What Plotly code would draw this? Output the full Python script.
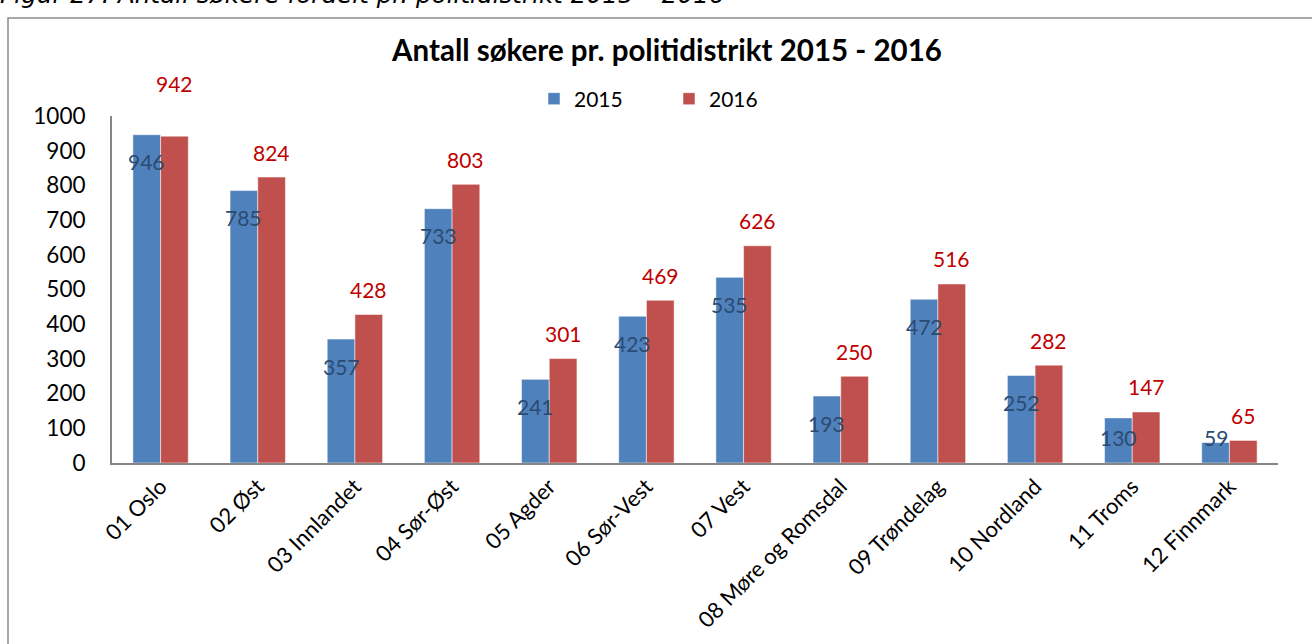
import plotly.graph_objects as go

categories = ["01 Oslo", "02 Øst", "03 Innlandet", "04 Sør-Øst", "05 Agder", "06 Sør-Vest",
              "07 Vest", "08 Møre og Romsdal", "09 Trøndelag", "10 Nordland", "11 Troms", "12 Finnmark"]
v2015 = [946, 785, 357, 733, 241, 423, 535, 193, 472, 252, 130, 59]
v2016 = [942, 824, 428, 803, 301, 469, 626, 250, 516, 282, 147, 65]
y_ticks = [0, 100, 200, 300, 400, 500, 600, 700, 800, 900, 1000]

W, H = 1312, 644
L, R, T, B = 112, 34, 116, 181
PW, PH = W - L - R, H - T - B
FONT = "Lato, Carlito, Calibri, sans-serif"
BLUE, RED = "#4F81BD", "#C0504D"

fig = go.Figure()
fig.add_bar(name="2015", x=categories, y=v2015, marker=dict(color=BLUE, line=dict(color="rgba(255,255,255,0.5)", width=1)))
fig.add_bar(name="2016", x=categories, y=v2016, marker=dict(color=RED, line=dict(color="rgba(255,255,255,0.5)", width=1)))

bargap = 0.43
cat_w = PW / len(categories)
off = cat_w * (1 - bargap) / 4
px_per_unit = PH / 1000

ann = []
for c, v in zip(categories, v2015):
    yy = max(v * px_per_unit - 27, 26) / px_per_unit
    ann.append(dict(x=c, y=yy, xref="x", yref="y", text=str(v), showarrow=False,
                    xshift=-off, font=dict(family=FONT, size=21, color="#2B4B70")))
for i, (c, v) in enumerate(zip(categories, v2016)):
    lift = 53 if i == 0 else 25
    ann.append(dict(x=c, y=v, xref="x", yref="y", text=str(v), showarrow=False,
                    xshift=off, yshift=lift, font=dict(family=FONT, size=21, color="#C00000")))

# cut-off caption at the top of the page
ann.append(dict(x=(-2 - L) / PW, y=(H - B - 11) / PH, xref="paper", yref="paper", xanchor="left", yanchor="bottom",
                text="<i>Figur 27: Antall søkere fordelt pr. politidistrikt 2015 – 2016</i>", showarrow=False,
                font=dict(family="DejaVu Sans", size=24.7, color="#000000")))

fig.update_layout(
    width=W, height=H,
    margin=dict(l=L, r=R, t=T, b=B, autoexpand=False),
    paper_bgcolor="white", plot_bgcolor="white",
    barmode="group", bargap=bargap, bargroupgap=0,
    title=dict(text="<b>Antall søkere pr. politidistrikt 2015 - 2016</b>", x=667 / W, xanchor="center",
               y=1 - 51 / H, yanchor="middle", font=dict(family=FONT, size=29.5, color="#000000")),
    legend=dict(orientation="h", x=(669 - L) / PW, xanchor="center", y=(H - B - 99) / PH, yanchor="middle",
                font=dict(family=FONT, size=21, color="#000000"), entrywidth=90, traceorder="normal",
                bgcolor="rgba(0,0,0,0)"),
    annotations=ann,
    shapes=[dict(type="rect", xref="paper", yref="paper", x0=(8 - L) / PW, x1=(W + 10 - L) / PW,
                 y0=(H - B - (H + 10)) / PH, y1=(H - B - 18) / PH, line=dict(color="#8C8C8C", width=1.5),
                 fillcolor="rgba(0,0,0,0)", layer="below")],
    showlegend=True,
)
fig.update_xaxes(showline=True, linecolor="#868686", linewidth=2, tickangle=-45, ticks="",
                 tickfont=dict(family=FONT, size=22, color="#000000"), showgrid=False, zeroline=False)
fig.update_yaxes(range=[0, 1000], tickvals=y_ticks, showline=True, linecolor="#868686", linewidth=2, ticks="",
                 tickfont=dict(family=FONT, size=22.5, color="#000000"), showgrid=False, zeroline=False, ticklabelstandoff=20)

fig.write_html("out.html", config={"displayModeBar": False},
               post_script="document.body.style.margin='0';document.body.style.overflow='hidden';")
